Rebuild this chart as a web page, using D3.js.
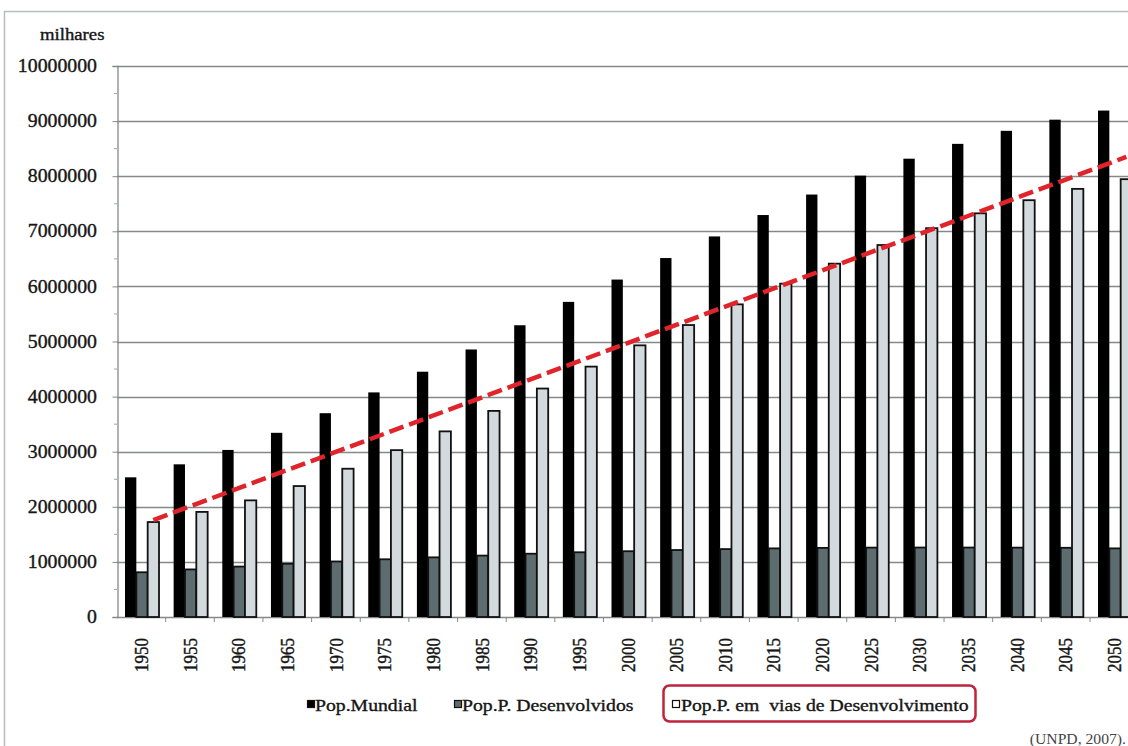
<!DOCTYPE html>
<html>
<head>
<meta charset="utf-8">
<script src="https://cdn.jsdelivr.net/npm/d3@7"></script>
<style>
  html, body { margin: 0; padding: 0; background: #fff; }
  svg { display: block; }
  text { font-family: "Liberation Serif", "Times New Roman", serif; fill: #151515; stroke: #151515; stroke-width: 0.35px; }
</style>
</head>
<body>
<svg id="chart" width="1128" height="746"></svg>
<script>
// Population in thousands, 1950–2050 (UNPD, 2007)
const years = [1950, 1955, 1960, 1965, 1970, 1975, 1980, 1985, 1990, 1995, 2000,
               2005, 2010, 2015, 2020, 2025, 2030, 2035, 2040, 2045, 2050];
const popMundial = [2535093, 2770753, 3031931, 3342771, 3698676, 4076080, 4451470,
                    4855264, 5294879, 5719045, 6124123, 6514751, 6906558, 7295135,
                    7667090, 8010509, 8317707, 8587050, 8823546, 9025982, 9191287];
const popDesenvolvidos = [811813, 863455, 915104, 966484, 1007626, 1047618, 1082494,
                          1114617, 1148519, 1174810, 1193869, 1215989, 1232457, 1245400,
                          1254145, 1259297, 1261027, 1260617, 1258875, 1256044, 1245247];
const popEmVias = [1723281, 1907298, 2116827, 2376287, 2691050, 3028462, 3368976,
                   3740647, 4146361, 4544235, 4930254, 5298762, 5674102, 6049735,
                   6412945, 6751212, 7056680, 7326433, 7564671, 7769938, 7946040];
const seriesNames = ["Pop.Mundial", "Pop.P. Desenvolvidos", "Pop.P. em  vias de Desenvolvimento"];
const yTicks = [0, 1000000, 2000000, 3000000, 4000000, 5000000, 6000000,
                7000000, 8000000, 9000000, 10000000];
// Dashed trend across the developing-countries series
const trendYears = [1950, 2050];
const trendValues = [1760000, 8350000];

const fills = ["#000000", "#5d6c6f", "#d3dadd"];
const strokes = ["#000000", "#111111", "#111111"];

const svg = d3.select("#chart");

// Chart frame
svg.append("rect")
  .attr("x", 4.5).attr("y", 11.5)
  .attr("width", 1140).attr("height", 760)
  .attr("fill", "#fff")
  .attr("stroke", "#b8bcbc").attr("stroke-width", 1.5);

const left = 117, bandW = 48.65;
const x = d3.scaleBand().domain(years).range([left, left + bandW * years.length]).padding(0);
const xs = d3.scaleBand().domain(d3.range(3)).range([8, 42]).padding(0);
const y = d3.scaleLinear().domain([0, 10000000]).range([617, 66]);

// Gridlines
svg.append("g").selectAll("line").data(yTicks.slice(1)).join("line")
  .attr("x1", left).attr("x2", 1128)
  .attr("y1", d => Math.round(y(d)) + 0.5).attr("y2", d => Math.round(y(d)) + 0.5)
  .attr("stroke", "#858989").attr("stroke-width", 1.3);

// Y axis
const yAxis = d3.axisLeft(y).tickValues(yTicks).tickSize(5).tickFormat("");
const yg = svg.append("g").attr("transform", `translate(${left + 0.5},0)`).call(yAxis);
yg.select(".domain").attr("stroke", "#858989").attr("stroke-width", 1.3);
yg.selectAll(".tick line").attr("stroke", "#858989");
// minor ticks
svg.append("g").selectAll("line").data(yTicks.slice(0, -1).map(d => d + 500000)).join("line")
  .attr("x1", left - 3).attr("x2", left)
  .attr("y1", d => y(d)).attr("y2", d => y(d))
  .attr("stroke", "#a0a4a4");
// y labels
svg.append("g").selectAll("text").data(yTicks).join("text")
  .attr("transform", d => `translate(97,${y(d)}) scale(1.1,1)`)
  .attr("text-anchor", "end").attr("dy", "0.34em")
  .style("font-size", "18px")
  .text(d => d3.format("d")(d));

svg.append("text")
  .attr("transform", "translate(40,40) scale(1.17,1)")
  .style("font-size", "16px")
  .text("milhares");

// X axis baseline and ticks at category boundaries
svg.append("line")
  .attr("x1", left).attr("x2", 1128).attr("y1", 617.5).attr("y2", 617.5)
  .attr("stroke", "#858989").attr("stroke-width", 1.3);
svg.append("g").selectAll("line").data(years).join("line")
  .attr("x1", d => x(d) + bandW).attr("x2", d => x(d) + bandW)
  .attr("y1", 617).attr("y2", 622)
  .attr("stroke", "#858989");

// Bars
const seriesVals = [popMundial, popDesenvolvidos, popEmVias];
seriesVals.forEach((vals, s) => {
  svg.append("g").selectAll("rect").data(years).join("rect")
    .attr("x", d => x(d) + xs(s))
    .attr("y", (d, i) => y(vals[i]))
    .attr("width", xs.bandwidth())
    .attr("height", (d, i) => y(0) - y(vals[i]))
    .attr("fill", fills[s])
    .attr("stroke", strokes[s])
    .attr("stroke-width", s === 0 ? 0 : 1.8);
});

// X labels
svg.append("g").selectAll("text").data(years).join("text")
  .attr("transform", d => `translate(${x(d) + bandW / 2},638) scale(1.12,1) rotate(-90)`)
  .attr("text-anchor", "end").attr("dy", "0.35em")
  .style("font-size", "17px")
  .text(d => d);

// Trend line
const trendPts = trendYears.map((yr, i) => [x(yr) + xs(2) + xs.bandwidth() / 2, y(trendValues[i])]);
svg.append("path")
  .attr("d", d3.line()(trendPts))
  .attr("fill", "none")
  .attr("stroke", "#e0242c")
  .attr("stroke-width", 4.5)
  .attr("stroke-dasharray", "15,6");

// Legend
const legend = [
  { sx: 307, tx: 315, s: 0 },
  { sx: 454, tx: 462, s: 1 },
  { sx: 672, tx: 681, s: 2 }
];
svg.append("rect")
  .attr("x", 663.5).attr("y", 685.5).attr("width", 312).attr("height", 36)
  .attr("rx", 6).attr("ry", 6)
  .attr("fill", "none").attr("stroke", "#c0243c").attr("stroke-width", 2.5);
legend.forEach(l => {
  svg.append("rect")
    .attr("x", l.sx + 0.5).attr("y", 700.5).attr("width", 7).attr("height", 7)
    .attr("fill", l.s === 2 ? "#fff" : fills[l.s])
    .attr("stroke", "#111").attr("stroke-width", 1.2);
  svg.append("text")
    .attr("transform", `translate(${l.tx},711) scale(1.16,1)`)
    .style("font-size", "17px")
    .style("white-space", "pre")
    .attr("xml:space", "preserve")
    .text(seriesNames[l.s]);
});

svg.append("text")
  .attr("transform", "translate(1126,744) scale(1.12,1)")
  .attr("text-anchor", "end")
  .style("font-size", "14px")
  .style("fill", "#444").style("stroke", "none")
  .text("(UNPD, 2007).");
</script>
</body>
</html>
